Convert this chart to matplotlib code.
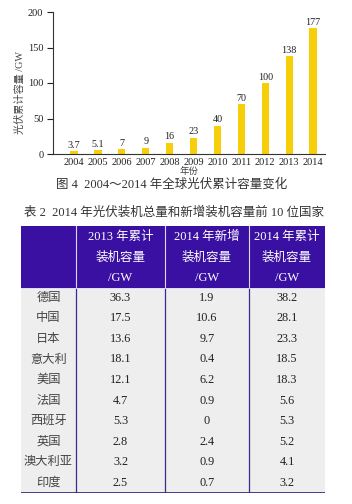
import matplotlib
matplotlib.use("Agg")
from matplotlib import pyplot as plt
from matplotlib.patches import Rectangle

plt.rcParams['font.family'] = ['Liberation Serif', 'Noto Sans CJK SC', 'DejaVu Sans']

# chart data
years = ['2004', '2005', '2006', '2007', '2008', '2009', '2010', '2011', '2012', '2013', '2014']
capacity = [3.7, 5.1, 7, 9, 16, 23, 40, 70, 100, 138, 177]
cap_labels = ['3.7', '5.1', '7', '9', '16', '23', '40', '70', '100', '138', '177']

# table data
countries = ['德国', '中国', '日本', '意大利', '美国', '法国', '西班牙', '英国', '澳大利亚', '印度']
cum_2013 = ['36.3', '17.5', '13.6', '18.1', '12.1', '4.7', '5.3', '2.8', '3.2', '2.5']
new_2014 = ['1.9', '10.6', '9.7', '0.4', '6.2', '0.9', '0', '2.4', '0.9', '0.7']
cum_2014 = ['38.2', '28.1', '23.3', '18.5', '18.3', '5.6', '5.3', '5.2', '4.1', '3.2']
headers = [['2013 年累计', '装机容量', '/GW'],
           ['2014 年新增', '装机容量', '/GW'],
           ['2014 年累计', '装机容量', '/GW']]

W, H = 352, 504
fig = plt.figure(figsize=(W / 100, H / 100), dpi=100)
fig.patch.set_facecolor('white')

# ---- bar chart ----
ax = fig.add_axes([53 / W, 1 - 154 / H, 272 / W, 142 / H])
x = list(range(len(years)))
ax.bar(x, capacity, width=0.3, color='#F6CF0A')
for xi, v, lab in zip(x, capacity, cap_labels):
    ax.text(xi, v + 2, lab, ha='center', va='bottom', fontsize=7.3, color='#222222')
ax.set_xlim(-0.88, 10.5)
ax.set_ylim(0, 200)
ax.set_yticks([0, 50, 100, 150, 200])
ax.set_xticks(x)
ax.set_xticklabels(years)
ax.tick_params(axis='x', length=0, pad=3, labelsize=7.5, colors='#222222')
ax.tick_params(axis='y', length=4, width=0.8, direction='out', pad=3, labelsize=7.5, colors='#222222')
for s in ['top', 'right']:
    ax.spines[s].set_visible(False)
for s in ['left', 'bottom']:
    ax.spines[s].set_color('#333333')
    ax.spines[s].set_linewidth(0.8)
ax.set_ylabel('光伏累计容量 /GW', fontsize=7.3, color='#444444')
ax.yaxis.set_label_coords(-0.103, 0.43)
fig.text(189 / W, 1 - 171 / H, '年份', ha='center', va='center', fontsize=6.8, color='#444444')
fig.text(172 / W, 1 - 184.5 / H, '图 4  2004～2014 年全球光伏累计容量变化',
         ha='center', va='center', fontsize=9, color='#333333')

# ---- table ----
fig.text(174 / W, 1 - 213 / H, '表 2  2014 年光伏装机总量和新增装机容量前 10 位国家',
         ha='center', va='center', fontsize=9, color='#333333')

col_edges = [0, 55, 144, 228, 304]
n = len(countries)
tax = fig.add_axes([21 / W, 1 - 493 / H, 304 / W, 267 / H])
tax.set_xlim(0, 304)
tax.set_ylim(n + 3, 0)
tax.axis('off')

header_color = '#3A10A2'
line_color = '#3B2A8C'
tax.add_patch(Rectangle((0, 0), 304, 3, facecolor=header_color, edgecolor='none'))
tax.add_patch(Rectangle((0, 3), 304, n, facecolor='#EEEEEE', edgecolor='none'))
for xe in col_edges[1:-1]:
    tax.plot([xe, xe], [0, 3], color='#DDD8F0', lw=0.8)
    tax.plot([xe, xe], [3, n + 3], color=line_color, lw=0.9)
tax.plot([0, 304], [3, 3], color='#DDD8F0', lw=0.6)
tax.plot([0, 304], [n + 3, n + 3], color=line_color, lw=1.3)

centers = [(col_edges[i] + col_edges[i + 1]) / 2 for i in range(4)]
for ci, lines in enumerate(headers):
    for ri, t in enumerate(lines):
        tax.text(centers[ci + 1], ri + 0.55, t, ha='center', va='center',
                 fontsize=9, color='white')

for ri in range(n):
    y = 3 + ri + 0.5
    tax.text(centers[0], y, countries[ri], ha='center', va='center', fontsize=8.8, color='#444444')
    for ci, col in enumerate([cum_2013, new_2014, cum_2014]):
        tax.text(centers[ci + 1], y, col[ri], ha='center', va='center', fontsize=8.8, color='#222222')

fig.savefig('out.png', dpi=100)
